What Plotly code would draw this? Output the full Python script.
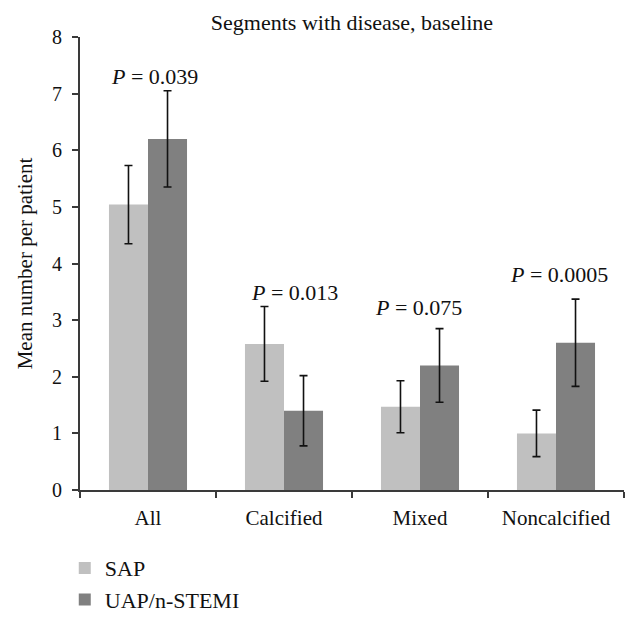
import plotly.graph_objects as go

categories = ["All", "Calcified", "Mixed", "Noncalcified"]
sap_mean = [5.04, 2.58, 1.47, 1.00]
sap_err = [0.69, 0.66, 0.46, 0.41]
uap_mean = [6.20, 1.40, 2.20, 2.60]
uap_err = [0.85, 0.62, 0.65, 0.77]
p_labels = ["0.039", "0.013", "0.075", "0.0005"]
p_y = [7.30, 3.48, 3.23, 3.80]
p_xshift = [6, 10, -2, 3]

FONT = "Liberation Serif"
AXC = "#3a3a3a"
TXT = "#111111"

# page body has an 8px margin; figure sized to fit the 639x620 window
W, H = 623, 604

fig = go.Figure()
fig.add_trace(go.Bar(
    x=categories, y=sap_mean, name="SAP", legendgroup="a",
    marker=dict(color="#c0c0c0", line=dict(width=0)),
    error_y=dict(type="data", array=sap_err, color=TXT, thickness=1.6, width=4),
))
fig.add_trace(go.Bar(
    x=categories, y=uap_mean, name="UAP/n-STEMI", legendgroup="b",
    marker=dict(color="#808080", line=dict(width=0)),
    error_y=dict(type="data", array=uap_err, color=TXT, thickness=1.6, width=4),
))

for c, lab, yy, xs in zip(categories, p_labels, p_y, p_xshift):
    fig.add_annotation(x=c, y=yy, xref="x", yref="y", text=f"<i>P</i> = {lab}",
                       showarrow=False, xshift=xs, yanchor="middle",
                       font=dict(family=FONT, size=22, color=TXT))

fig.update_layout(
    width=W, height=H,
    margin=dict(l=72, r=7, t=29, b=122, autoexpand=False),
    plot_bgcolor="white", paper_bgcolor="white",
    barmode="group", bargap=0.426, bargroupgap=0,
    font=dict(family=FONT, size=21, color=TXT),
    title=dict(text="Segments with disease, baseline", x=0.5, xref="paper",
               y=1 - 14 / H, yref="container", yanchor="middle", xanchor="center",
               font=dict(family=FONT, size=22, color=TXT)),
    legend=dict(x=-0.028, y=-0.126, xanchor="left", yanchor="top",
                traceorder="grouped", tracegroupgap=0,
                font=dict(family=FONT, size=22, color=TXT),
                bgcolor="rgba(0,0,0,0)"),
    showlegend=True,
)
fig.update_xaxes(
    range=[-0.5, 3.5], showline=True, linecolor=AXC, linewidth=2,
    ticks="outside", tickson="boundaries", ticklen=6, tickcolor=AXC, tickwidth=2,
    ticklabelstandoff=8, showgrid=False, zeroline=False, automargin=False,
    tickfont=dict(family=FONT, size=21, color=TXT),
)
fig.update_yaxes(
    range=[0, 8], dtick=1, showline=True, linecolor=AXC, linewidth=2,
    ticks="outside", ticklen=6, tickcolor=AXC, tickwidth=2,
    ticklabelstandoff=6, showgrid=False, zeroline=False, automargin=False,
    title=dict(text="Mean number per patient", standoff=14,
               font=dict(family=FONT, size=21, color=TXT)),
    tickfont=dict(family=FONT, size=20, color=TXT),
)

fig.write_html("out.html")
